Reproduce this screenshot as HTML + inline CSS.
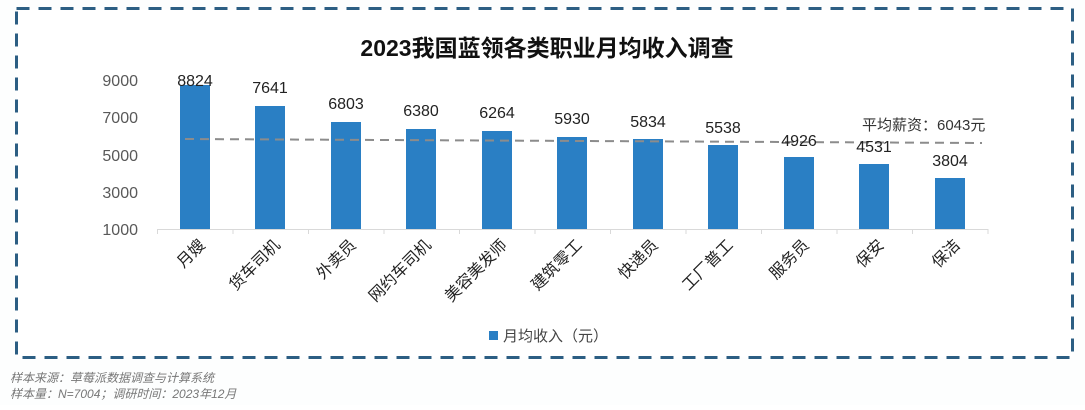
<!DOCTYPE html>
<html><head><meta charset="utf-8"><style>
body{margin:0;background:#fff;width:1085px;height:405px;overflow:hidden;font-family:"Liberation Sans","Noto Sans CJK SC",sans-serif}
</style></head><body>
<svg width="1085" height="405" xmlns="http://www.w3.org/2000/svg" font-family="Liberation Sans, Noto Sans CJK SC, sans-serif">
<rect x="0" y="0" width="1085" height="405" fill="#fdfefe"/>
<rect x="16.5" y="8.5" width="1056" height="349" fill="#fff" stroke="#2c5e83" stroke-width="3" stroke-dasharray="13,9"/>
<text x="547" y="56" text-anchor="middle" font-size="23" font-weight="bold" fill="#111">2023我国蓝领各类职业月均收入调查</text>
<g font-size="16" fill="#595959" text-anchor="end">
<text x="138" y="86">9000</text><text x="138" y="123">7000</text><text x="138" y="161">5000</text><text x="138" y="198">3000</text><text x="138" y="235">1000</text>
</g>
<line x1="157" y1="229.5" x2="988" y2="229.5" stroke="#d9d9d9"/>
<g stroke="#d9d9d9">
<line x1="157.5" y1="229" x2="157.5" y2="234"/><line x1="233" y1="229" x2="233" y2="234"/><line x1="308.5" y1="229" x2="308.5" y2="234"/><line x1="384" y1="229" x2="384" y2="234"/><line x1="459.5" y1="229" x2="459.5" y2="234"/><line x1="535" y1="229" x2="535" y2="234"/><line x1="610.5" y1="229" x2="610.5" y2="234"/><line x1="686" y1="229" x2="686" y2="234"/><line x1="761.5" y1="229" x2="761.5" y2="234"/><line x1="837" y1="229" x2="837" y2="234"/><line x1="912.5" y1="229" x2="912.5" y2="234"/><line x1="988" y1="229" x2="988" y2="234"/>
</g>
<g fill="#2a7fc4">
<rect x="180" y="85" width="30" height="144"/>
<rect x="255" y="106" width="30" height="123"/>
<rect x="331" y="122" width="30" height="107"/>
<rect x="406" y="129" width="30" height="100"/>
<rect x="482" y="131" width="30" height="98"/>
<rect x="557" y="137" width="30" height="92"/>
<rect x="633" y="139" width="30" height="90"/>
<rect x="708" y="145" width="30" height="84"/>
<rect x="784" y="157" width="30" height="72"/>
<rect x="859" y="164" width="30" height="65"/>
<rect x="935" y="178" width="30" height="51"/>
</g>
<line x1="185" y1="139" x2="982" y2="143" stroke="#8c8c8c" stroke-width="2" stroke-dasharray="9,6"/>
<g font-size="16" fill="#222" text-anchor="middle">
<text x="195" y="86">8824</text><text x="270" y="93">7641</text><text x="346" y="109">6803</text><text x="421" y="116">6380</text><text x="497" y="118">6264</text><text x="572" y="124">5930</text><text x="648" y="127">5834</text><text x="723" y="133">5538</text><text x="799" y="146">4926</text><text x="874" y="152">4531</text><text x="950" y="166">3804</text>
</g>
<text x="862" y="130" font-size="15" fill="#333">平均薪资：6043元</text>
<g font-size="16" fill="#222" text-anchor="end">
<text transform="translate(206,246) rotate(-45)">月嫂</text>
<text transform="translate(281,246) rotate(-45)">货车司机</text>
<text transform="translate(357,246) rotate(-45)">外卖员</text>
<text transform="translate(432,246) rotate(-45)">网约车司机</text>
<text transform="translate(508,246) rotate(-45)">美容美发师</text>
<text transform="translate(583,246) rotate(-45)">建筑零工</text>
<text transform="translate(659,246) rotate(-45)">快递员</text>
<text transform="translate(734,246) rotate(-45)">工厂普工</text>
<text transform="translate(810,246) rotate(-45)">服务员</text>
<text transform="translate(885,246) rotate(-45)">保安</text>
<text transform="translate(961,246) rotate(-45)">保洁</text>
</g>
<rect x="489" y="331" width="9" height="9" fill="#2a7fc4"/>
<text x="503" y="341" font-size="15" fill="#444">月均收入（元）</text>
<g font-size="12" fill="#777" font-style="italic">
<text x="10" y="382">样本来源：草莓派数据调查与计算系统</text>
<text x="10" y="398">样本量：N=7004；调研时间：2023年12月</text>
</g>
</svg>
</body></html>
